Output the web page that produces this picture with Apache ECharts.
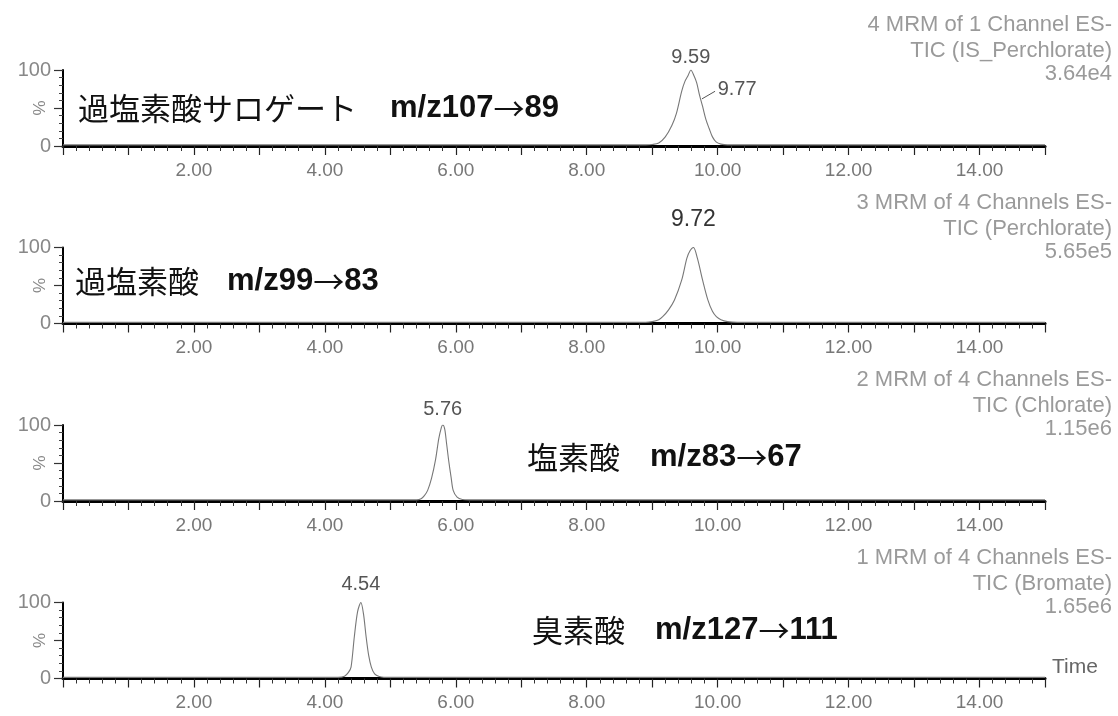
<!DOCTYPE html>
<html><head><meta charset="utf-8">
<script src="https://cdn.jsdelivr.net/npm/echarts@6/dist/echarts.min.js"></script>
<style>html,body{margin:0;padding:0;background:#fff}#c{width:1118px;height:716px}</style>
</head><body><div id="c"></div>
<script>
// ---- data ----
const xTickValues = [2, 4, 6, 8, 10, 12, 14];
const xTickLabels = ['2.00', '4.00', '6.00', '8.00', '10.00', '12.00', '14.00'];
const yTickValues = [0, 100];
const yTickLabels = ['0', '100'];

// channel 4 : IS perchlorate  [time(min), %]
const ch4 = [[0,1.5],[8.9,1.5],[9.0,2],[9.1,4],[9.2,12],[9.3,27],[9.37,43],[9.45,72],[9.5,85],[9.55,93],[9.59,100],[9.64,92],[9.68,83],[9.72,68],[9.77,52],[9.82,35],[9.87,23],[9.92,12],[9.98,5],[10.05,2.5],[10.15,1.5],[15,1.5]];
// channel 3 : perchlorate
const ch3 = [[0,1.5],[8.9,1.5],[9.0,2.5],[9.1,5],[9.16,9],[9.25,18],[9.34,31],[9.45,57],[9.53,86],[9.58,96],[9.63,100],[9.69,86],[9.77,57],[9.85,31],[9.92,16],[9.98,9],[10.05,5],[10.15,2.5],[10.3,1.5],[15,1.5]];
// channel 2 : chlorate
const ch2 = [[0,1.5],[5.4,1.5],[5.47,3],[5.52,7],[5.57,14],[5.63,30],[5.69,54],[5.74,82],[5.78,97],[5.80,100],[5.83,95],[5.86,75],[5.89,54],[5.93,30],[5.96,14],[6.02,5],[6.1,2],[6.2,1.5],[15,1.5]];
// channel 1 : bromate
const ch1 = [[0,1.5],[4.2,1.5],[4.3,3],[4.36,8],[4.40,15],[4.45,55],[4.5,88],[4.55,100],[4.59,85],[4.63,55],[4.67,30],[4.71,15],[4.76,6],[4.83,2.5],[4.9,1.5],[15,1.5]];

const seriesData = [ch4, ch3, ch2, ch1];
const peakLabels = ['9.59', '9.72', '5.76', '4.54'];
const peakTimes = [9.59, 9.63, 5.80, 4.55];
const shoulderLabel = '9.77';
const shoulderPoint = [9.76, 62];
const headerLines = [
  ['4 MRM of 1 Channel ES-', 'TIC (IS_Perchlorate)', '3.64e4'],
  ['3 MRM of 4 Channels ES-', 'TIC (Perchlorate)', '5.65e5'],
  ['2 MRM of 4 Channels ES-', 'TIC (Chlorate)', '1.15e6'],
  ['1 MRM of 4 Channels ES-', 'TIC (Bromate)', '1.65e6']
];
const compoundNames = ['過塩素酸サロゲート', '過塩素酸', '塩素酸', '臭素酸'];
const precursorIons = ['m/z107', 'm/z99', 'm/z83', 'm/z127'];
const productIons = ['89', '83', '67', '111'];

// ---- layout ----
const gridTops = [70, 247.5, 425, 602.5];
const gridH = 76;
const gridLeft = 63, gridW = 982;
const nameX = [78, 75, 527, 532];
const transX = [390, 227, 650, 655];
const nameYOff = [38, 42, 44, 48];
const peakDist = [3, 16, 6, 8];

const latin = '"Liberation Sans", Arial, sans-serif';
const cjk = '"Noto Sans CJK JP", sans-serif';

const grids = [], xAxes = [], yAxes = [], series = [], graphics = [];
gridTops.forEach((top, i) => {
  grids.push({left: gridLeft, top: top, width: gridW, height: gridH, containLabel: false, outerBoundsMode: 'none'});
  xAxes.push({
    type: 'value', gridIndex: i, min: 0, max: 15, interval: 1,
    axisLine: {onZero: false, lineStyle: {color: '#000', width: 3}},
    axisTick: {show: true, length: 9, lineStyle: {color: '#222', width: 1.2}},
    minorTick: {show: true, splitNumber: 5, length: 5, lineStyle: {color: '#333', width: 1}},
    splitLine: {show: false}, minorSplitLine: {show: false},
    axisLabel: {
      margin: 15, color: '#777', fontFamily: latin, fontSize: 19,
      formatter: v => { const k = xTickValues.indexOf(v); return k >= 0 ? xTickLabels[k] : ''; }
    },
    name: i === 3 ? 'Time' : '', nameLocation: 'end', nameGap: 7,
    nameTextStyle: {color: '#666', fontFamily: latin, fontSize: 21, verticalAlign: 'bottom', lineHeight: 22}
  });
  yAxes.push({
    type: 'value', gridIndex: i, min: 0, max: 100, interval: 50,
    axisLine: {show: true, lineStyle: {color: '#000', width: 2}},
    axisTick: {show: true, length: 9, lineStyle: {color: '#333', width: 1.2}},
    minorTick: {show: true, splitNumber: 5, length: 4, lineStyle: {color: '#444'}},
    splitLine: {show: false},
    axisLabel: {
      margin: 12, color: '#888', fontFamily: latin, fontSize: 20,
      formatter: v => { const k = yTickValues.indexOf(v); return k >= 0 ? yTickLabels[k] : ''; }
    },
    name: '%', nameLocation: 'middle', nameGap: 14, nameRotate: 90, nameMoveOverlap: false,
    nameTextStyle: {color: '#888', fontFamily: latin, fontSize: 17}
  });
  const s = {
    type: 'line', xAxisIndex: i, yAxisIndex: i, data: seriesData[i],
    showSymbol: false, symbol: 'none', smooth: 0.3, animation: false,
    lineStyle: {color: '#777', width: 1.1},
    markPoint: {
      symbol: 'circle', symbolSize: 0, animation: false,
      data: [{coord: [peakTimes[i], 100], value: peakLabels[i]}],
      label: {
        show: true, position: 'top', distance: peakDist[i],
        formatter: peakLabels[i], fontFamily: latin,
        fontSize: i === 1 ? 23 : 20, color: i === 1 ? '#333' : '#555'
      }
    }
  };
  if (i === 0) {
    s.markLine = {
      symbol: 'none', silent: true, animation: false,
      lineStyle: {color: '#555', type: 'solid', width: 1},
      label: {show: true, position: 'end', formatter: shoulderLabel, fontFamily: latin, fontSize: 20, color: '#555', distance: 3},
      data: [[{coord: shoulderPoint}, {coord: [shoulderPoint[0] + 0.2, shoulderPoint[1] + 10]}]]
    };
  }
  series.push(s);

  const axisY = top + gridH;
  headerLines[i].forEach((t, j) => {
    graphics.push({type: 'text', silent: true, style: {
      text: t, x: 1112, y: axisY + [-121, -95, -72][j],
      font: '22px ' + latin, fill: '#9a9a9a',
      textAlign: 'right', align: 'right', textVerticalAlign: 'middle', verticalAlign: 'middle'
    }});
  });
  graphics.push({type: 'text', silent: true, style: {
    text: compoundNames[i], x: nameX[i], y: axisY - nameYOff[i],
    font: '31px ' + cjk, fill: '#111',
    textVerticalAlign: 'middle', verticalAlign: 'middle'
  }});
  graphics.push({type: 'text', silent: true, style: {
    text: '{a|' + precursorIons[i] + '}{r|→}{a|' + productIons[i] + '}',
    x: transX[i], y: axisY - nameYOff[i],
    textVerticalAlign: 'middle', verticalAlign: 'middle',
    rich: {
      a: {fontFamily: latin, fontWeight: 'bold', fontSize: 31, fill: '#111', color: '#111'},
      r: {fontFamily: cjk, fontSize: 31, fill: '#111', color: '#111'}
    }
  }});
});

const chart = echarts.init(document.getElementById('c'), null, {renderer: 'canvas'});
chart.setOption({
  animation: false,
  backgroundColor: '#fff',
  grid: grids, xAxis: xAxes, yAxis: yAxes, series: series,
  graphic: graphics
});
</script></body></html>
